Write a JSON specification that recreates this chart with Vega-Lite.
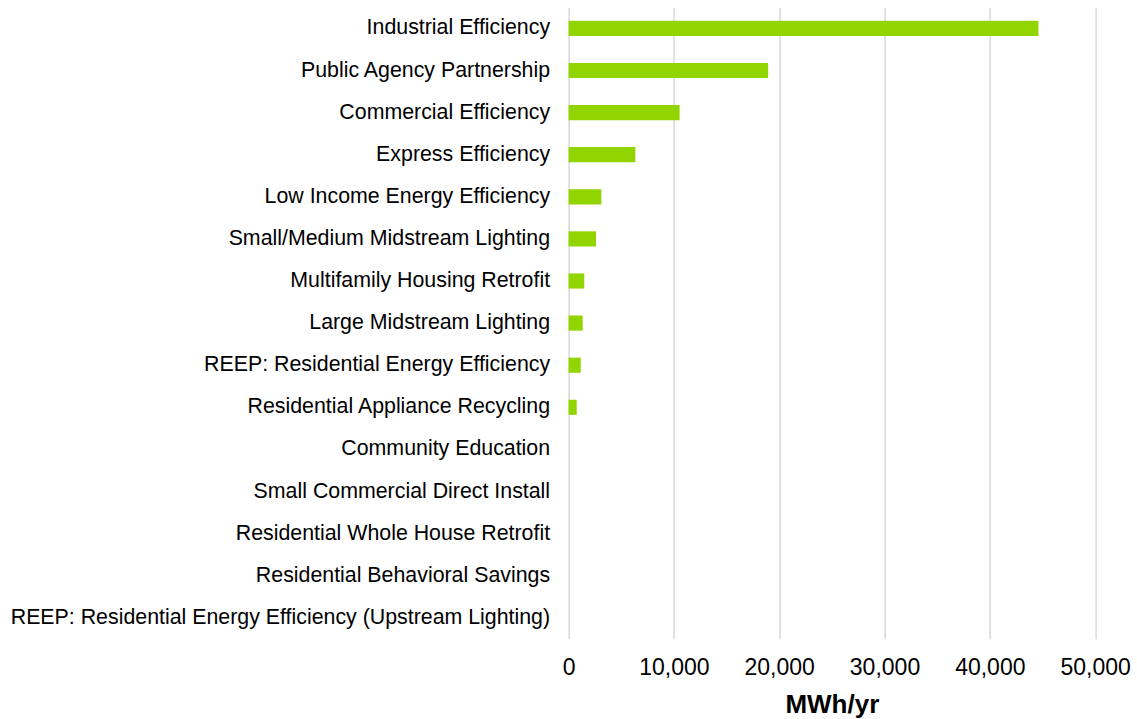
{
  "$schema": "https://vega.github.io/schema/vega-lite/v6.json",
  "width": 526.5,
  "height": 631.5,
  "autosize": {"type": "none"},
  "padding": {"left": 568.6, "top": 7.35, "right": 41.9, "bottom": 80.15},
  "background": "white",
  "config": {
    "view": {"stroke": null},
    "font": "Liberation Sans"
  },
  "data": {
    "values": [
      {"program": "Industrial Efficiency", "mwh": 44620},
      {"program": "Public Agency Partnership", "mwh": 18950},
      {"program": "Commercial Efficiency", "mwh": 10540},
      {"program": "Express Efficiency", "mwh": 6340},
      {"program": "Low Income Energy Efficiency", "mwh": 3110},
      {"program": "Small/Medium Midstream Lighting", "mwh": 2600},
      {"program": "Multifamily Housing Retrofit", "mwh": 1490},
      {"program": "Large Midstream Lighting", "mwh": 1340},
      {"program": "REEP: Residential Energy Efficiency", "mwh": 1150},
      {"program": "Residential Appliance Recycling", "mwh": 770},
      {"program": "Community Education", "mwh": 0},
      {"program": "Small Commercial Direct Install", "mwh": 0},
      {"program": "Residential Whole House Retrofit", "mwh": 0},
      {"program": "Residential Behavioral Savings", "mwh": 0},
      {"program": "REEP: Residential Energy Efficiency (Upstream Lighting)", "mwh": 0}
    ]
  },
  "mark": {"type": "bar", "color": "#92D400"},
  "encoding": {
    "y": {
      "field": "program",
      "type": "nominal",
      "sort": null,
      "scale": {"paddingInner": 0.64, "paddingOuter": 0.32},
      "axis": {
        "title": null,
        "labelFontSize": 21.35,
        "labelColor": "#000000",
        "labelLimit": 700,
        "labelPadding": 19,
        "ticks": false,
        "domain": false,
        "grid": false
      }
    },
    "x": {
      "field": "mwh",
      "type": "quantitative",
      "scale": {"domain": [0, 50000], "nice": false},
      "axis": {
        "title": "MWh/yr",
        "titleFontSize": 26,
        "titleFontWeight": "bold",
        "titleColor": "#000000",
        "titlePadding": 12,
        "values": [0, 10000, 20000, 30000, 40000, 50000],
        "format": ",.0f",
        "labelFontSize": 23,
        "labelColor": "#000000",
        "labelFlush": false,
        "labelPadding": 18,
        "ticks": false,
        "domain": false,
        "grid": true,
        "gridColor": "#d9d9d9",
        "gridWidth": 1.5
      }
    }
  }
}
